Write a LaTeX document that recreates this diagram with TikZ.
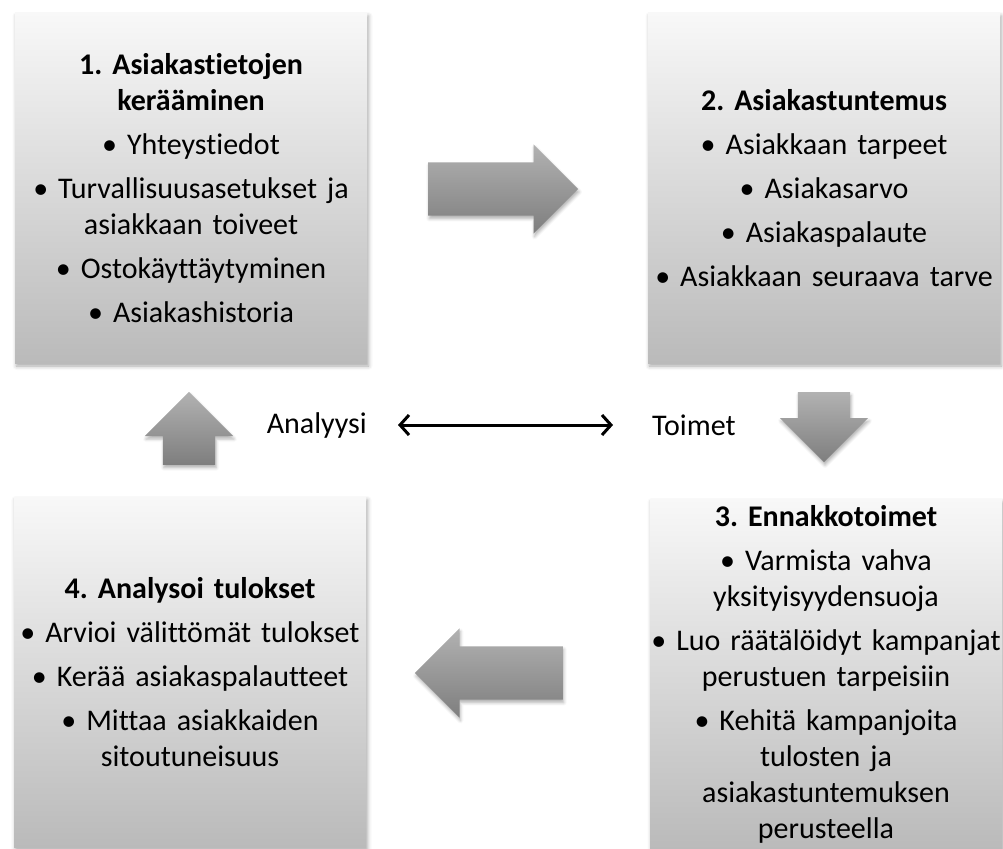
\documentclass[tikz,border=0pt]{standalone}
\usepackage{fontspec}
\setmainfont{Carlito}[Ligatures=NoCommon, WordSpace=0.75]
\frenchspacing
\usetikzlibrary{shapes.arrows,shadows.blur,arrows.meta}

\definecolor{boxTop}{HTML}{F8F8F8}
\definecolor{boxBottom}{HTML}{BABABA}
\definecolor{arrowTop}{HTML}{B2B2B2}
\definecolor{arrowBottom}{HTML}{7E7E7E}

\begin{document}
\begin{tikzpicture}[x=1pt, y=-1pt,
  phasebox/.style={top color=boxTop, bottom color=boxBottom, minimum width=352pt, minimum height=350pt,
    text width=350pt, inner sep=0pt, align=center, font=\fontsize{30}{36}\selectfont,
    blur shadow={shadow xshift=1.5pt, shadow yshift=-3pt, shadow blur radius=4pt, shadow opacity=35}},
  blockarrow/.style={single arrow, single arrow head extend=18pt, inner xsep=0pt, inner ysep=26.5pt,
    top color=arrowTop, bottom color=arrowBottom,
    blur shadow={shadow xshift=1pt, shadow yshift=-3pt, shadow blur radius=3pt, shadow opacity=30}},
  upright/.style={inner xsep=26pt, inner ysep=0pt},
  sidetext/.style={font=\fontsize{30}{36}\selectfont, inner sep=0pt},
  twoway/.style={<->, >={Straight Barb[length=9pt, width=20pt]}, line width=3pt, black}]

\useasboundingbox (0,0) rectangle (1003,848);

% The four phases of the cycle
\node[phasebox] (phaseOne) at (191,188) {\textbf{1. Asiakastietojen}\\ \textbf{kerääminen}\\[8pt]
  • Yhteystiedot\\[8pt] • Turvallisuusasetukset ja\\ asiakkaan toiveet\\[8pt]
  • Ostokäyttäytyminen\\[8pt] • Asiakashistoria};
\node[phasebox] (phaseTwo) at (824,188) {\textbf{2. Asiakastuntemus}\\[8pt]
  • Asiakkaan tarpeet\\[8pt] • Asiakasarvo\\[8pt] • Asiakaspalaute\\[8pt]
  • Asiakkaan seuraava tarve};
\node[phasebox] (phaseThree) at (826,674) {\textbf{3. Ennakkotoimet}\\[8pt]
  • Varmista vahva\\ yksityisyydensuoja\\[8pt] • Luo räätälöidyt kampanjat\\ perustuen tarpeisiin\\[8pt]
  • Kehitä kampanjoita\\ tulosten ja\\ asiakastuntemuksen\\ perusteella};
\node[phasebox] (phaseFour) at (190,672) {\textbf{4. Analysoi tulokset}\\[8pt]
  • Arvioi välittömät tulokset\\[8pt] • Kerää asiakaspalautteet\\[8pt]
  • Mittaa asiakkaiden\\ sitoutuneisuus};

% Block arrows between the phases
\node[blockarrow, minimum height=150pt, anchor=tail] (oneToTwo) at (428,189) {};
\node[blockarrow, upright, minimum height=70pt, shape border rotate=270, anchor=tail] (twoToThree) at (824,392) {};
\node[blockarrow, minimum height=148pt, shape border rotate=180, anchor=tail] (threeToFour) at (563,673) {};
\node[blockarrow, upright, minimum height=73pt, shape border rotate=90, anchor=tail] (fourToOne) at (189,465) {};

% Middle labels and the arrow between them
\node[sidetext, anchor=east] (analyysi) at (367,425) {Analyysi};
\node[sidetext, anchor=west] (toimet) at (652,425) {Toimet};
\draw[twoway, shorten <=31pt, shorten >=39pt] (analyysi.east) -- (toimet.west);

\end{tikzpicture}
\end{document}
